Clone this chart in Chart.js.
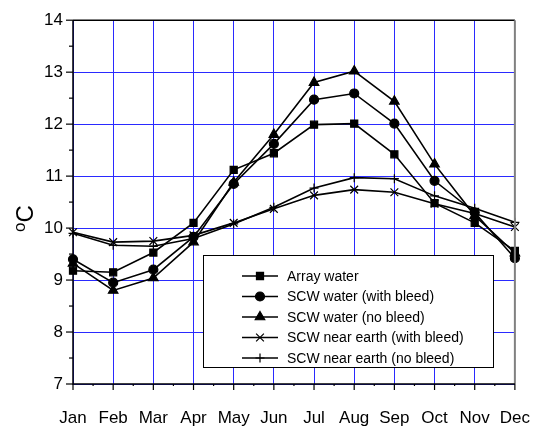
<!DOCTYPE html>
<html>
<head>
<meta charset="utf-8">
<script src="https://cdn.jsdelivr.net/npm/chart.js@4/dist/chart.umd.min.js"></script>
<style>
html,body{margin:0;padding:0;background:#fff;}
#wrap{width:554px;height:428px;position:relative;}
</style>
</head>
<body>
<div id="wrap"><canvas id="c" width="554" height="428"></canvas></div>
<script>
const months = ['Jan','Feb','Mar','Apr','May','Jun','Jul','Aug','Sep','Oct','Nov','Dec'];
const yTicks = [7,8,9,10,11,12,13,14];
const arrayWater      = [9.18, 9.15, 9.53, 10.10, 11.12, 11.44, 11.99, 12.01, 11.42, 10.48, 10.10, 9.56];
const scwWaterBleed   = [9.40, 8.95, 9.20, 9.83, 10.85, 11.62, 12.47, 12.59, 12.01, 10.91, 10.30, 9.42];
const scwWaterNoBleed = [9.32, 8.80, 9.04, 9.73, 10.88, 11.80, 12.80, 13.02, 12.44, 11.23, 10.24, 9.52];
const nearEarthBleed  = [9.92, 9.73, 9.75, 9.86, 10.10, 10.37, 10.63, 10.74, 10.69, 10.47, 10.28, 10.02];
const nearEarthNoBleed= [9.90, 9.67, 9.65, 9.80, 10.08, 10.40, 10.77, 10.97, 10.95, 10.62, 10.38, 10.11];
const seriesNames = ['Array water','SCW water (with bleed)','SCW water (no bleed)','SCW near earth (with bleed)','SCW near earth (no bleed)'];

const FONT = 'Liberation Sans, Arial, sans-serif';
const mk = (label, data, style, r) => ({
  label, data, borderColor:'#000', backgroundColor:'#000', borderWidth:1.6,
  pointStyle:style, pointRadius:r, pointHoverRadius:r, pointBorderWidth:1.2,
  pointBackgroundColor:'#000', pointBorderColor:'#000', tension:0, fill:false
});
const datasets = [
  mk(seriesNames[0], arrayWater, 'rect', 5),
  mk(seriesNames[1], scwWaterBleed, 'circle', 4.5),
  mk(seriesNames[2], scwWaterNoBleed, 'triangle', 5.5),
  mk(seriesNames[3], nearEarthBleed, 'crossRot', 5.5),
  mk(seriesNames[4], nearEarthNoBleed, 'cross', 4.5)
];

const decor = {
  id:'decor',
  afterDraw(chart){
    const ctx = chart.ctx, ca = chart.chartArea, xs = chart.scales.x, ys = chart.scales.y;
    ctx.save();
    // top border
    ctx.strokeStyle='#000'; ctx.lineWidth=1.5;
    ctx.beginPath(); ctx.moveTo(ca.left, ca.top); ctx.lineTo(ca.right, ca.top); ctx.stroke();
    // right border gray
    ctx.strokeStyle='#808080'; ctx.lineWidth=2;
    ctx.beginPath(); ctx.moveTo(ca.right, ca.top); ctx.lineTo(ca.right, ca.bottom); ctx.stroke();
    // axes
    ctx.strokeStyle='#000'; ctx.lineWidth=1.5;
    ctx.beginPath(); ctx.moveTo(ca.left, ca.top); ctx.lineTo(ca.left, ca.bottom); ctx.lineTo(ca.right, ca.bottom); ctx.stroke();
    // y ticks
    ctx.lineWidth=1.2;
    for(let v=7; v<=14.001; v+=0.5){
      const y = ys.getPixelForValue(v);
      const major = Math.abs(v-Math.round(v))<1e-6;
      ctx.beginPath(); ctx.moveTo(ca.left-(major?7:4), y); ctx.lineTo(ca.left, y); ctx.stroke();
    }
    // x ticks
    for(let i=0;i<months.length;i++){
      const x = xs.getPixelForValue(i);
      ctx.beginPath(); ctx.moveTo(x, ca.bottom); ctx.lineTo(x, ca.bottom+6); ctx.stroke();
      if(i<months.length-1){
        const xm = (x + xs.getPixelForValue(i+1))/2;
        ctx.beginPath(); ctx.moveTo(xm, ca.bottom); ctx.lineTo(xm, ca.bottom+2); ctx.stroke();
      }
    }
    // y title "oC"
    ctx.fillStyle='#000';
    ctx.translate(33, 232);
    ctx.rotate(-Math.PI/2);
    ctx.textBaseline='alphabetic'; ctx.textAlign='left';
    ctx.font = '17px '+FONT;
    ctx.fillText('o', 0, -8);
    const ow = ctx.measureText('o').width;
    ctx.font = '24px '+FONT;
    ctx.fillText('C', ow, 0);
    ctx.restore();

    // legend
    ctx.save();
    const lx=203, ly=255, lw=290, lh=112;
    ctx.fillStyle='#fff'; ctx.fillRect(lx, ly, lw, lh);
    ctx.strokeStyle='#000'; ctx.lineWidth=1;
    ctx.strokeRect(lx+0.5, ly+0.5, lw, lh);
    ctx.font='14px '+FONT; ctx.textBaseline='middle'; ctx.textAlign='left';
    chart.data.datasets.forEach((ds, i)=>{
      const y = 276 + i*20.5;
      ctx.strokeStyle='#000'; ctx.lineWidth=1.6;
      ctx.beginPath(); ctx.moveTo(242, y); ctx.lineTo(278, y); ctx.stroke();
      ctx.fillStyle='#000'; ctx.lineWidth=1.2;
      Chart.helpers.drawPoint(ctx, {pointStyle: ds.pointStyle, radius: ds.pointRadius, rotation:0, borderWidth:1.2}, 260, y);
      ctx.fillStyle='#000';
      ctx.fillText(ds.label, 287, y+1);
    });
    ctx.restore();
  }
};

new Chart(document.getElementById('c'), {
  type:'line',
  data:{ labels: months, datasets },
  options:{
    responsive:false, animation:false, events:[],
    layout:{ padding:{ left:0, right:32, top:18, bottom:0 } },
    plugins:{ legend:{display:false}, tooltip:{enabled:false} },
    scales:{
      x:{
        type:'category', offset:false,
        grid:{ color:'#2a2aff', lineWidth:1, drawTicks:false },
        border:{ display:false },
        ticks:{ color:'#000', font:{ family:FONT, size:17 }, padding:24, autoSkip:false, maxRotation:0 },
        afterFit(s){ s.height = 44; }
      },
      y:{
        min:7, max:14,
        afterBuildTicks(s){ s.ticks = yTicks.map(v=>({value:v})); },
        grid:{ color:'#2a2aff', lineWidth:1, drawTicks:false },
        border:{ display:false },
        ticks:{ color:'#000', font:{ family:FONT, size:17 }, padding:10 },
        afterFit(s){ s.width = 73; }
      }
    }
  },
  plugins:[decor]
});
</script>
</body>
</html>
